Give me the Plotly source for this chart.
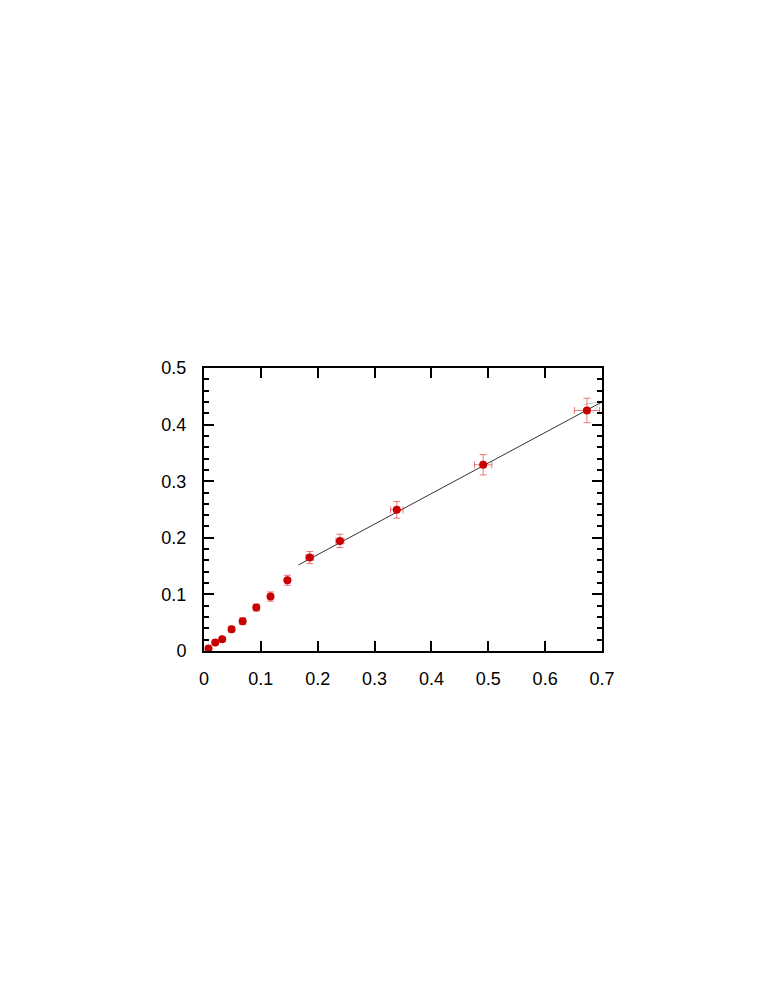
import plotly.graph_objects as go

# measured points
x_vals = [0.0079, 0.0198, 0.032, 0.0485, 0.068, 0.092, 0.117, 0.1467, 0.186, 0.239, 0.339, 0.491, 0.6735]
y_vals = [0.0045, 0.0148, 0.0208, 0.0385, 0.0526, 0.0768, 0.0962, 0.1250, 0.1652, 0.1945, 0.2495, 0.329, 0.425]
x_err = [0.0, 0.0, 0.0, 0.0, 0.0, 0.0, 0.0, 0.003, 0.0068, 0.007, 0.011, 0.0153, 0.022]
y_err = [0.002, 0.0025, 0.003, 0.005, 0.006, 0.006, 0.0082, 0.0088, 0.0105, 0.0118, 0.0148, 0.018, 0.0216]

# linear fit over the upper points
fit_x = [0.166, 0.7]
fit_y = [0.1519, 0.4400]

# faint grey segments near last point
ghost_x = [0.668, 0.7, None, 0.682, 0.697]
ghost_y = [0.4355, 0.4405, None, 0.4195, 0.4375]

x_ticks = [0, 0.1, 0.2, 0.3, 0.4, 0.5, 0.6, 0.7]
y_ticks = [0, 0.1, 0.2, 0.3, 0.4, 0.5]

font = "Liberation Sans, Arial, sans-serif"

fig = go.Figure()
fig.add_trace(go.Scatter(x=ghost_x, y=ghost_y, mode="lines",
                         line=dict(color="rgba(150,150,150,0.5)", width=1), hoverinfo="skip"))
fig.add_trace(go.Scatter(x=fit_x, y=fit_y, mode="lines",
                         line=dict(color="#333333", width=1)))
fig.add_trace(go.Scatter(
    x=x_vals, y=y_vals, mode="markers",
    marker=dict(color="#c80000", size=8),
    error_y=dict(type="data", array=y_err, color="rgba(220,50,50,0.65)", thickness=1, width=3.5),
    error_x=dict(type="data", array=x_err, color="rgba(220,50,50,0.65)", thickness=1, width=3.5),
))

fig.update_layout(
    width=766, height=991,
    margin=dict(l=196, r=172, t=360, b=348),
    paper_bgcolor="white", plot_bgcolor="white",
    showlegend=False,
    font=dict(family=font, size=18, color="black"),
    xaxis=dict(range=[0, 0.7], tickvals=x_ticks, ticktext=[f"{v:g}" for v in x_ticks],
               ticks="inside", ticklen=10, tickwidth=2, tickcolor="black",
               showline=True, linewidth=2, linecolor="black", mirror="ticks",
               showgrid=False, zeroline=False, ticklabelstandoff=10),
    yaxis=dict(range=[0, 0.5], tickvals=y_ticks, ticktext=[f"{v:g}" for v in y_ticks],
               ticks="inside", ticklen=10, tickwidth=2, tickcolor="black",
               showline=True, linewidth=2, linecolor="black", mirror="ticks",
               showgrid=False, zeroline=False, ticklabelstandoff=12,
               minor=dict(dtick=0.02, ticks="inside", ticklen=5, tickwidth=2,
                          tickcolor="black", showgrid=False)),
)

fig.write_html("out.html")
